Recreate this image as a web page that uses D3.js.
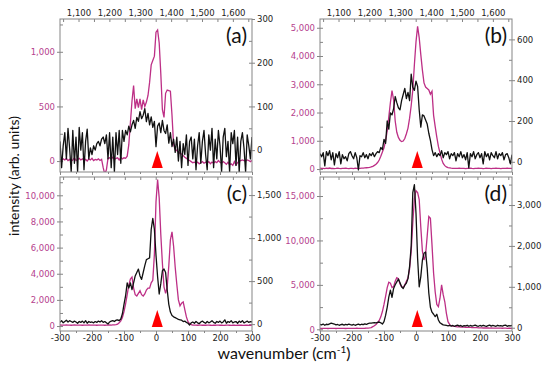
<!DOCTYPE html>
<html>
<head>
<meta charset="utf-8">
<script src="https://cdn.jsdelivr.net/npm/d3@7/dist/d3.min.js"></script>
<style>
  body { margin: 0; background: #fff; }
  svg { display: block; }
  .tick text { font-family: 'DejaVu Sans', sans-serif; font-size: 8.5px; }
</style>
</head>
<body>
<svg id="chart" width="550" height="368"></svg>
<script>
// spectra are sampled every 5 cm-1 from -300 to 300
const shift = d3.range(-300, 301, 5)
const ramanDomain = [1040, 1662]
const ramanTicks = [1100, 1200, 1300, 1400, 1500, 1600]
const shiftTicks = [-300, -200, -100, 0, 100, 200, 300]
const laserShift = 4

const magentaA = [
    15, 5, 20, 10, 25, 5, 15, 0, 10, 30,
    5, 15, 25, 10, 20, 5, 15, 0, 20, 10,
    25, 5, 15, 10, 20, 5, 15, -60, -120, -80,
    25, 30, 20, 35, 15, 25, 30, 10, 35, 20,
    30, 25, 45, 150, 350, 550, 690, 480, 570, 490,
    570, 470, 560, 500, 540, 600, 720, 880, 920, 960,
    1180, 1200, 1080, 800, 470, 400, 620, 650, 645, 640,
    420, 150, 110, 95, 85, 70, 65, 50, 35, 25,
    15, 5, -5, -15, -10, -20, -10, -25, -15, -5,
    -20, -10, -15, -5, -25, -10, -20, -5, -15, 5,
    -10, -20, -5, -15, -30, -10, -35, -25, -40, -5,
    -35, -15, 0, 5, 10, 5, 0, 10, 5, -5,
    5]
const blackA = [
    20, -40, 10, 40, -20, 50, 5, -50, 45, -30,
    30, -50, 52, 0, 40, -45, 20, 48, -20, 5,
    -10, 10, 0, 15, 20, 10, 25, 30, 15, 35,
    -20, 40, -40, 30, -50, 40, -10, 45, -30, 45,
    20, 45, 35, 55, 42, 58, 68, 50, 75, 66,
    88, 72, 80, 95, 65, 84, 58, 76, 52, 66,
    8, 55, 62, 40, 68, 45, 38, 58, 16, 40,
    8, 25, -5, 30, -25, 20, -40, 15, -10, 35,
    -35, 20, 30, -20, 25, -45, 10, 40, -30, 20,
    45, -10, -45, 35, 0, 50, -40, 25, -20, 45,
    10, -50, 30, 50, -15, 20, -50, 40, 15, 45,
    -35, 30, -50, 20, 40, 5, -50, 35, 10, -20,
    30]

const magentaB = [
    30, 20, 25, 15, 30, 20, 35, 20, 25, 15,
    20, 30, 20, 15, 25, 20, 30, 20, 15, 25,
    20, 15, 30, 20, 25, 20, 30, 35, 40, 45,
    50, 60, 75, 95, 130, 170, 230, 320, 450, 600,
    750, 1000, 1350, 1850, 2350, 2780, 2450, 1700, 1300, 1120,
    1020, 970, 990, 1080, 1250, 1450, 1800, 2250, 2800, 3700,
    4500, 5050, 4650, 4050, 3500, 3050, 2900, 2850, 2800, 2650,
    2750, 1900, 1500, 1130, 800, 570, 350, 200, 120, 75,
    50, 40, 30, 25, 20, 25, 20, 30, 20, 25,
    20, 15, 25, 20, 30, 20, 15, 25, 20, 30,
    20, 25, 15, 20, 30, 25, 20, 15, 25, 20,
    30, 20, 25, 15, 20, 25, 20, 30, 25, 20,
    25]
const blackB = [
    40, 25, 45, -20, 50, 30, 55, 10, 45, -15,
    40, 20, 50, -10, 35, 15, 25, 5, 40, 50,
    30, 15, 45, 20, -40, 30, 25, 45, 20, 35,
    15, 40, 30, 45, 25, 40, 50, 45, 70, 60,
    110, 90, 200, 160, 240, 230, 260, 320, 290, 265,
    255, 300, 330, 360, 310, 340, 300, 430, 365, 350,
    395, 370, 255, 170, 230, 225, 205, 185, 140, 105,
    60, 30, 45, 25, 40, 30, 55, 20, 45, 35,
    50, 15, 40, 30, 45, 5, 40, 25, 50, 20,
    35, 10, 45, -30, 40, 25, 50, 15, 35, 45,
    20, 40, -10, 50, 25, 40, 10, 45, 30, 20,
    50, 15, 40, 30, 45, 10, 35, 40, 20, -10,
    35]

const magentaC = [
    80, 70, 75, 65, 80, 70, 75, 60, 70, 80,
    70, 65, 75, 70, 60, 75, 70, 65, 80, 70,
    65, 75, 70, 60, 70, 75, 65, 70, 60, 70,
    75, 80, 70, 85, 90, 110, 150, 250, 400, 650,
    1100, 1700, 2400, 3100, 3600, 3750, 2900, 2400, 2300, 2500,
    2700, 2400, 2300, 2450, 2750, 2900, 2900, 3300, 3500, 5500,
    9500, 11200, 9800, 7000, 4800, 3000, 2500, 3000, 4600, 6600,
    7200, 6100, 4500, 3200, 2000, 1550, 1750, 1850, 1250, 700,
    330, 180, 100, 70, 65, 70, 60, 65, 70, 60,
    65, 60, 70, 65, 60, 55, 65, 60, 70, 65,
    60, 65, 55, 60, 70, 65, 60, 55, 65, 60,
    55, 65, 60, 70, 60, 55, 65, 60, 55, 60,
    65]
const blackC = [
    20, 40, 15, 30, 45, 25, 40, 30, 20, 35,
    25, 10, 30, 20, 35, 15, 40, 10, 30, 20,
    25, 15, 30, 20, 35, 25, 40, 20, 30, 15,
    0, 25, 35, 40, 30, 45, 50, 40, 60, 120,
    230, 330, 480, 420, 480, 400, 480, 560, 600, 640,
    560, 520, 600, 680, 750, 760, 770, 1100, 1230, 1100,
    800, 550, 350, 470, 620, 640, 600, 400, 230, 140,
    100, 85, 75, 65, 55, 50, 45, 30, 35, 20,
    10, -10, 15, 25, 10, 30, 15, 5, 25, 35,
    20, 10, 30, 15, 25, 40, 20, 10, 30, 20,
    35, 15, 25, 50, 10, 30, 20, 40, 15, 25,
    30, 10, 35, 20, 40, 15, 25, 35, 20, 30,
    25]

const magentaD = [
    100, 90, 110, 95, 105, 90, 100, 115, 95, 100,
    90, 105, 100, 95, 110, 100, 90, 105, 95, 100,
    110, 95, 100, 120, 105, 110, 100, 115, 120, 130,
    140, 150, 200, 300, 400, 550, 750, 1000, 1400, 2000,
    2800, 3700, 4700, 5300, 5200, 4700, 4800, 5400, 5800, 5700,
    5100, 4800, 4700, 5000, 5400, 5800, 6800, 8800, 12000, 14700,
    15600, 15400, 14600, 11500, 8800, 7800, 8400, 10500, 12700, 12500,
    9500, 6300, 4200, 2800, 2550, 3500, 5000, 3900, 3100, 1800,
    860, 550, 400, 350, 320, 300, 280, 270, 260, 250,
    240, 230, 220, 215, 210, 200, 190, 185, 180, 170,
    165, 160, 150, 160, 150, 145, 140, 150, 140, 135,
    130, 140, 130, 125, 120, 130, 125, 115, 120, 110,
    115]
const blackD = [
    80, 70, 90, 60, 85, 75, 95, 110, 100, 90,
    70, 80, 60, 75, 85, 65, 80, 70, 90, 75,
    65, 80, 60, 75, 90, 70, 85, 75, 95, 80,
    100, 110, 115, 120, 125, 120, 130, 140, 120, 90,
    150, 300, 500, 750, 920, 740, 960, 1050, 1120, 1190,
    1100, 1000, 960, 1040, 1090, 1200, 1500, 2000, 3300, 3500,
    2800, 1700, 1000, 1250, 1650, 1820, 1850, 1450, 850, 500,
    380, 330, 270, 330, 190, 120, 95, 70, 65, 55,
    45, 60, 40, 55, 35, 50, 65, 40, 55, 30,
    50, 45, 60, 35, 55, 40, 50, 65, 45, 35,
    55, 40, 60, 45, 35, 50, 65, 40, 55, 45,
    35, 60, 45, 50, 40, 55, 65, 35, 50, 45,
    55]

const leftTicksA = [0, 500, 1000]
const rightTicksA = [0, 100, 200, 300]
const leftTicksB = [0, 1000, 2000, 3000, 4000, 5000]
const rightTicksB = [0, 200, 400, 600]
const leftTicksC = [0, 2000, 4000, 6000, 8000, 10000]
const rightTicksC = [0, 500, 1000, 1500]
const leftTicksD = [0, 5000, 10000, 15000]
const rightTicksD = [0, 1000, 2000, 3000]

const colorMagenta = '#bd2f86'
const colorMagentaText = '#b5418d'
const colorFrame = '#858585'
const fmt = (d) => d3.format(',')(d).replace('\u2212', '-')

const svg = d3.select('#chart')

const panels = [
    { label: '(a)', x: 60, y: 19, w: 192, h: 153, magenta: magentaA, black: blackA,
      mDomain: [-100, 1300], kDomain: [-50, 300], mTicks: leftTicksA, mMinor: 250,
      kTicks: rightTicksA, kMinor: 50, topLabels: true, bottomLabels: false },
    { label: '(b)', x: 320, y: 19, w: 192, h: 153, magenta: magentaB, black: blackB,
      mDomain: [-105, 5310], kDomain: [-50, 700], mTicks: leftTicksB, mMinor: 500,
      kTicks: rightTicksB, kMinor: 100, topLabels: true, bottomLabels: false },
    { label: '(c)', x: 60, y: 177, w: 192, h: 154, magenta: magentaC, black: blackC,
      mDomain: [-380, 11400], kDomain: [-80, 1710], mTicks: leftTicksC, mMinor: 1000,
      kTicks: rightTicksC, kMinor: 250, topLabels: false, bottomLabels: true },
    { label: '(d)', x: 320, y: 177, w: 192, h: 154, magenta: magentaD, black: blackD,
      mDomain: [-190, 17140], kDomain: [-80, 3685], mTicks: leftTicksD, mMinor: 2500,
      kTicks: rightTicksD, kMinor: 500, topLabels: false, bottomLabels: true }
]

function styleAxis(sel, color) {
    sel.select('.domain').remove()
    sel.selectAll('.tick line').attr('stroke', colorFrame)
    sel.selectAll('.tick text').attr('fill', color)
}

function drawPanel(p, idx) {
    const g = svg.append('g')
    const x = d3.scaleLinear().domain([-300, 300]).range([p.x, p.x + p.w])
    const xTop = d3.scaleLinear().domain(ramanDomain).range([p.x, p.x + p.w])
    const yM = d3.scaleLinear().domain(p.mDomain).range([p.y + p.h, p.y])
    const yK = d3.scaleLinear().domain(p.kDomain).range([p.y + p.h, p.y])
    const bottom = p.y + p.h
    const right = p.x + p.w

    // bottom axis
    g.append('g').attr('transform', `translate(0,${bottom})`)
        .call(d3.axisBottom(x).tickValues(d3.range(-250, 300, 100)).tickSize(2).tickFormat(''))
        .call(styleAxis, '#222')
    g.append('g').attr('transform', `translate(0,${bottom})`)
        .call(d3.axisBottom(x).tickValues(shiftTicks).tickSize(3).tickPadding(1)
            .tickFormat(p.bottomLabels ? fmt : ''))
        .call(styleAxis, '#222')

    // top axis, raman shift
    g.append('g').attr('transform', `translate(0,${p.y})`)
        .call(d3.axisTop(xTop).tickValues(d3.range(1050, 1651, 50)).tickSize(-3).tickFormat(''))
        .call(styleAxis, '#222')
    if (p.topLabels) {
        g.append('g').attr('transform', `translate(0,${p.y})`)
            .call(d3.axisTop(xTop).tickValues(ramanTicks).tickSize(0).tickPadding(3).tickFormat(fmt))
            .call(styleAxis, '#222')
    }

    // left axis (magenta)
    const mMinor = d3.range(0, p.mDomain[1], p.mMinor)
    g.append('g').attr('transform', `translate(${p.x},0)`)
        .call(d3.axisLeft(yM).tickValues(mMinor).tickSize(-3).tickFormat(''))
        .call(styleAxis, colorMagentaText)
    g.append('g').attr('transform', `translate(${p.x},0)`)
        .call(d3.axisLeft(yM).tickValues(p.mTicks).tickSize(3).tickPadding(2).tickFormat(fmt))
        .call(styleAxis, colorMagentaText)

    // right axis (black)
    const kMinor = d3.range(0, p.kDomain[1], p.kMinor)
    g.append('g').attr('transform', `translate(${right},0)`)
        .call(d3.axisRight(yK).tickValues(kMinor).tickSize(-3).tickFormat(''))
        .call(styleAxis, '#222')
    g.append('g').attr('transform', `translate(${right},0)`)
        .call(d3.axisRight(yK).tickValues(p.kTicks).tickSize(3).tickPadding(2).tickFormat(fmt))
        .call(styleAxis, '#222')

    // spectra
    const clipId = 'clip' + idx
    g.append('clipPath').attr('id', clipId)
        .append('rect')
        .attr('x', p.x).attr('y', p.y)
        .attr('width', p.w).attr('height', p.h)

    const lineM = d3.line().x((d, i) => x(shift[i])).y((d) => yM(d))
    const lineK = d3.line().x((d, i) => x(shift[i])).y((d) => yK(d))

    g.append('path')
        .attr('d', lineM(p.magenta))
        .attr('fill', 'none')
        .attr('stroke', colorMagenta)
        .attr('stroke-width', 1.3)
        .attr('clip-path', `url(#${clipId})`)

    g.append('path')
        .attr('d', lineK(p.black))
        .attr('fill', 'none')
        .attr('stroke', '#111')
        .attr('stroke-width', 1.3)
        .attr('stroke-linejoin', 'round')
        .attr('clip-path', `url(#${clipId})`)

    // laser line marker
    const cx = x(laserShift)
    const base = bottom - 4
    g.append('path')
        .attr('d', `M${cx - 5.5},${base}L${cx + 5.5},${base}L${cx},${base - 17}Z`)
        .attr('fill', '#ff0000')

    // frame
    g.append('rect')
        .attr('x', p.x).attr('y', p.y)
        .attr('width', p.w).attr('height', p.h)
        .attr('fill', 'none')
        .attr('stroke', colorFrame)
        .attr('stroke-width', 1)

    g.append('text')
        .attr('x', right - 5)
        .attr('y', p.y + 24)
        .attr('text-anchor', 'end')
        .style('font-family', 'Lato, sans-serif')
        .style('font-size', '21px')
        .attr('fill', '#111')
        .text(p.label)
}

panels.forEach(drawPanel)

svg.append('text')
    .attr('transform', 'translate(19,176) rotate(-90)')
    .attr('text-anchor', 'middle')
    .style('font-family', 'Lato, sans-serif')
    .style('font-size', '14px')
    .attr('fill', '#111')
    .text('intensity (arb. units)')

const xTitle = svg.append('text')
    .attr('x', 284)
    .attr('y', 359)
    .attr('text-anchor', 'middle')
    .style('font-family', 'Lato, sans-serif')
    .style('font-size', '16px')
    .attr('fill', '#111')
xTitle.append('tspan').text('wavenumber (cm')
xTitle.append('tspan').attr('dy', -6).style('font-size', '10px').text('-1')
xTitle.append('tspan').attr('dy', 6).text(')')
</script>
</body>
</html>
